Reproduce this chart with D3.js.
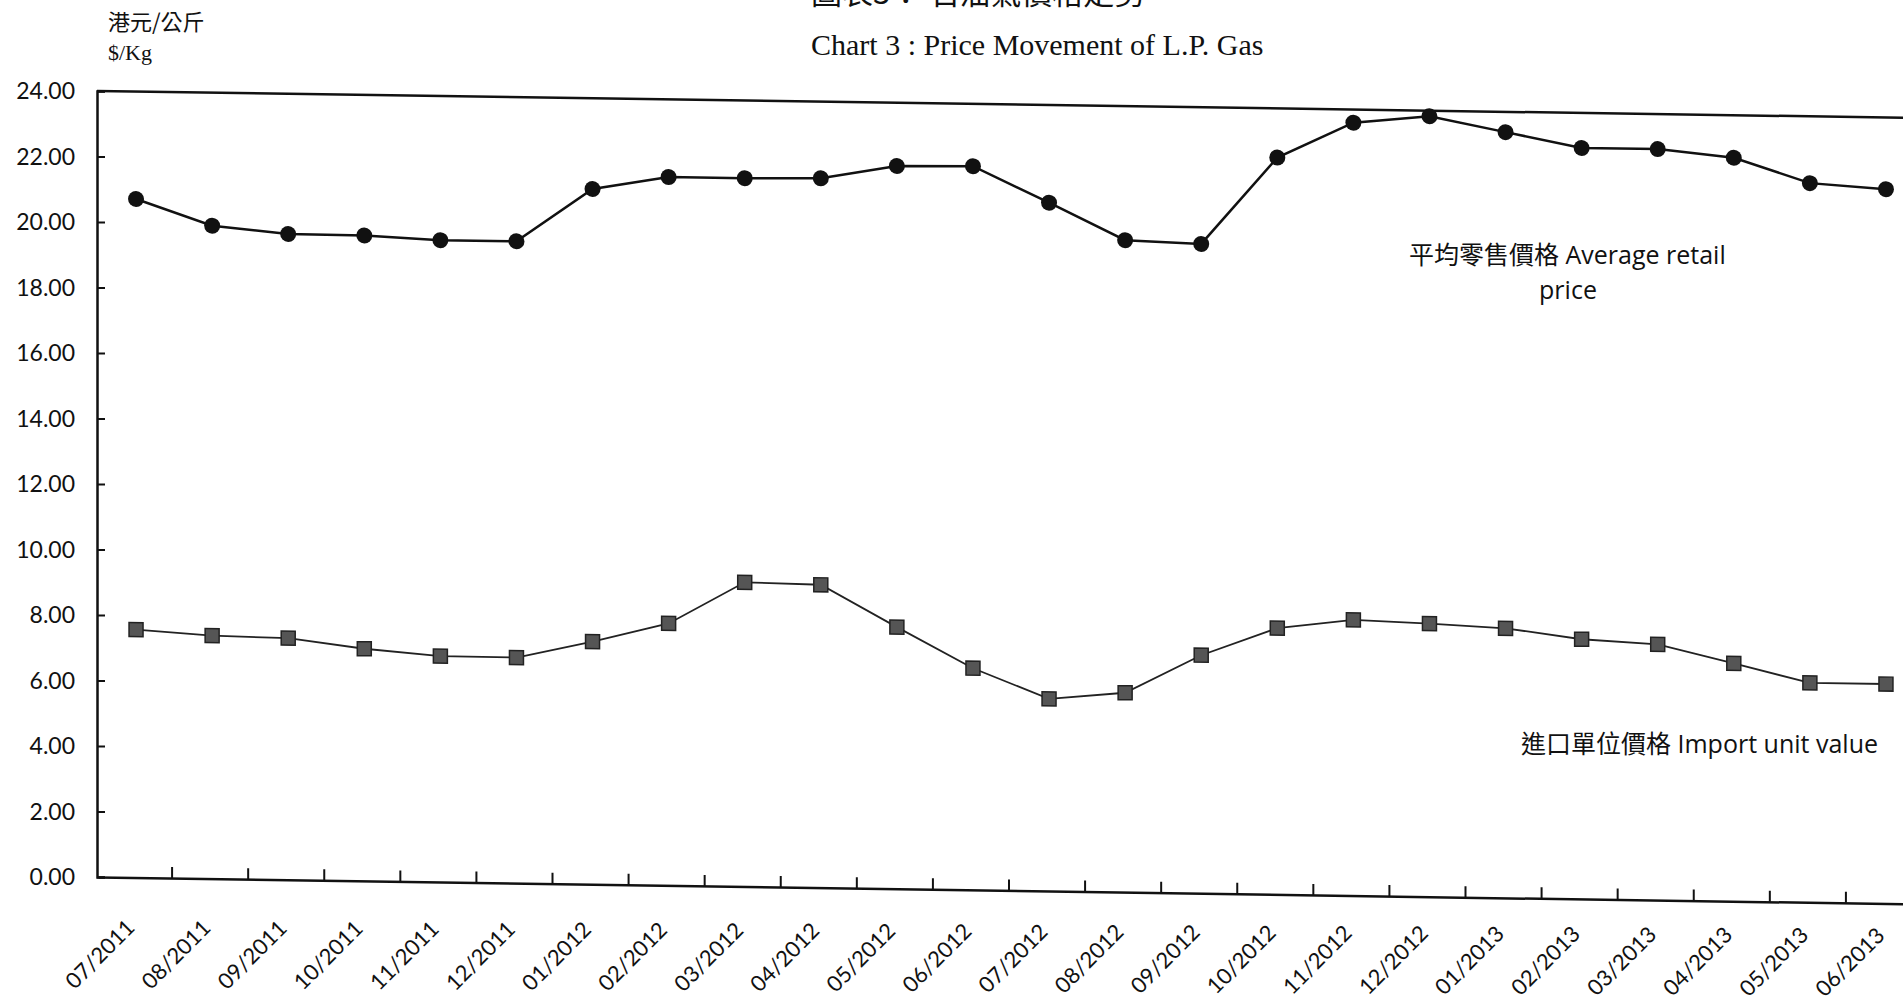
<!DOCTYPE html>
<html>
<head>
<meta charset="utf-8">
<title>Chart 3: Price Movement of L.P. Gas</title>
<script src="https://d3js.org/d3.v7.min.js"></script>
<style>
    body { margin: 0; background: #fff; }
    .tick-label { font-family: Lato, "Noto Sans", sans-serif; font-size: 23px; fill: #111; }
    .serif { font-family: "Liberation Serif", "Noto Sans CJK TC", serif; fill: #111; }
    .note { font-family: "Open Sans", "Noto Sans CJK TC", sans-serif; font-size: 25px; fill: #111; }
</style>
</head>
<body>
<div id="chart"></div>
<script>
    // Data
    const months = ["07/2011", "08/2011", "09/2011", "10/2011", "11/2011", "12/2011",
        "01/2012", "02/2012", "03/2012", "04/2012", "05/2012", "06/2012",
        "07/2012", "08/2012", "09/2012", "10/2012", "11/2012", "12/2012",
        "01/2013", "02/2013", "03/2013", "04/2013", "05/2013", "06/2013"];
    const retailPrice = [20.72, 19.94, 19.72, 19.71, 19.60, 19.60,
        21.23, 21.63, 21.63, 21.66, 22.07, 22.10,
        21.02, 19.91, 19.83, 22.50, 23.60, 23.83,
        23.38, 22.93, 22.93, 22.70, 21.96, 21.81];
    const importValue = [7.57, 7.42, 7.38, 7.09, 6.90, 6.89,
        7.41, 8.00, 9.29, 9.25, 7.99, 6.77,
        5.87, 6.09, 7.27, 8.13, 8.42, 8.34,
        8.23, 7.93, 7.81, 7.26, 6.70, 6.70];
    const yTicks = [0, 2, 4, 6, 8, 10, 12, 14, 16, 18, 20, 22, 24];

    const W = 1903, H = 1005;
    const plotLeft = 97, plotTop = 91, plotBottom = 877, plotRight = 1924;
    const skew = 0.847; // scanned page is slightly skewed

    const svg = d3.select("#chart").append("svg")
        .attr("width", W)
        .attr("height", H);

    const x = d3.scaleBand()
        .domain(months)
        .range([plotLeft + 1, plotRight]);
    const y = d3.scaleLinear()
        .domain([0, 24])
        .range([plotBottom, plotTop]);
    const cx = d => x(d) + x.bandwidth() / 2;

    // Y tick labels (outside the skewed plot)
    svg.append("g")
        .selectAll("text")
        .data(yTicks)
      .enter().append("text")
        .attr("class", "tick-label")
        .attr("x", 75)
        .attr("y", d => y(d))
        .attr("dy", "0.35em")
        .attr("text-anchor", "end")
        .text(d => d.toFixed(2));

    // Titles (the Chinese one is cut by the page edge, as in the scan)
    svg.append("text")
        .attr("class", "serif")
        .attr("x", 811)
        .attr("y", 4)
        .style("font-size", "31px")
        .style("font-family", "'Noto Sans CJK TC', serif")
        .text("圖表3：  石油氣價格走勢");
    svg.append("text")
        .attr("class", "serif")
        .attr("x", 811)
        .attr("y", 55)
        .style("font-size", "30px")
        .text("Chart 3 :  Price Movement of L.P. Gas");

    svg.append("text")
        .attr("class", "serif")
        .attr("x", 108)
        .attr("y", 30)
        .style("font-size", "22px")
        .style("font-family", "'Noto Sans CJK TC', serif")
        .text("港元/公斤");
    svg.append("text")
        .attr("class", "serif")
        .attr("x", 108)
        .attr("y", 60)
        .style("font-size", "22px")
        .text("$/Kg");

    // Skewed plot group
    const g = svg.append("g")
        .attr("transform", `translate(${plotLeft},0) skewY(${skew}) translate(${-plotLeft},0)`);

    // Frame: top, left, bottom
    g.append("line")
        .attr("x1", plotLeft).attr("x2", plotRight)
        .attr("y1", plotTop).attr("y2", plotTop)
        .attr("stroke", "#111").attr("stroke-width", 2.5);

    g.append("g")
        .attr("transform", `translate(${plotLeft},0)`)
        .call(d3.axisRight(y).tickValues(yTicks).tickSize(8).tickFormat(""))
        .call(a => a.select(".domain").attr("stroke", "#111").attr("stroke-width", 2.5))
        .call(a => a.selectAll(".tick line").attr("stroke", "#111").attr("stroke-width", 2));

    const xAxis = g.append("g")
        .attr("transform", `translate(0,${plotBottom})`)
        .call(d3.axisTop(x).tickSize(0).tickFormat(""))
        .call(a => a.select(".domain").attr("stroke", "#111").attr("stroke-width", 2.5));

    // ticks on band boundaries
    xAxis.selectAll(".bound")
        .data(months.slice(1))
      .enter().append("line")
        .attr("x1", d => x(d) - 2).attr("x2", d => x(d) - 2)
        .attr("y1", 0).attr("y2", -11)
        .attr("stroke", "#111").attr("stroke-width", 2);

    // rotated month labels (less slanted than the plot frame in the scan)
    svg.append("g")
        .selectAll("text")
        .data(months)
      .enter().append("text")
        .attr("class", "tick-label")
        .style("font-size", "22px")
        .attr("text-anchor", "end")
        .attr("transform", d => `translate(${cx(d)},${929 + (cx(d) - 136) * 0.0045}) rotate(-45)`)
        .text(d => d);

    // Retail price line
    const line = d3.line()
        .x((d, i) => cx(months[i]))
        .y(d => y(d));
    g.append("path")
        .datum(retailPrice)
        .attr("fill", "none")
        .attr("stroke", "#111")
        .attr("stroke-width", 2.5)
        .attr("d", line);
    g.selectAll(".dot")
        .data(retailPrice)
      .enter().append("circle")
        .attr("cx", (d, i) => cx(months[i]))
        .attr("cy", d => y(d))
        .attr("r", 8)
        .attr("fill", "#111");

    // Import unit value line
    g.append("path")
        .datum(importValue)
        .attr("fill", "none")
        .attr("stroke", "#222")
        .attr("stroke-width", 1.8)
        .attr("d", line);
    g.selectAll(".sq")
        .data(importValue)
      .enter().append("rect")
        .attr("x", (d, i) => cx(months[i]) - 7)
        .attr("y", d => y(d) - 7)
        .attr("width", 14)
        .attr("height", 14)
        .attr("fill", "#555")
        .attr("stroke", "#222")
        .attr("stroke-width", 1.5);

    // Series labels
    svg.append("text")
        .attr("class", "note")
        .attr("x", 1409)
        .attr("y", 264)
        .text("平均零售價格 Average retail");
    svg.append("text")
        .attr("class", "note")
        .attr("x", 1568)
        .attr("y", 299)
        .attr("text-anchor", "middle")
        .text("price");
    svg.append("text")
        .attr("class", "note")
        .attr("x", 1521)
        .attr("y", 753)
        .text("進口單位價格 Import unit value");
</script>
</body>
</html>
